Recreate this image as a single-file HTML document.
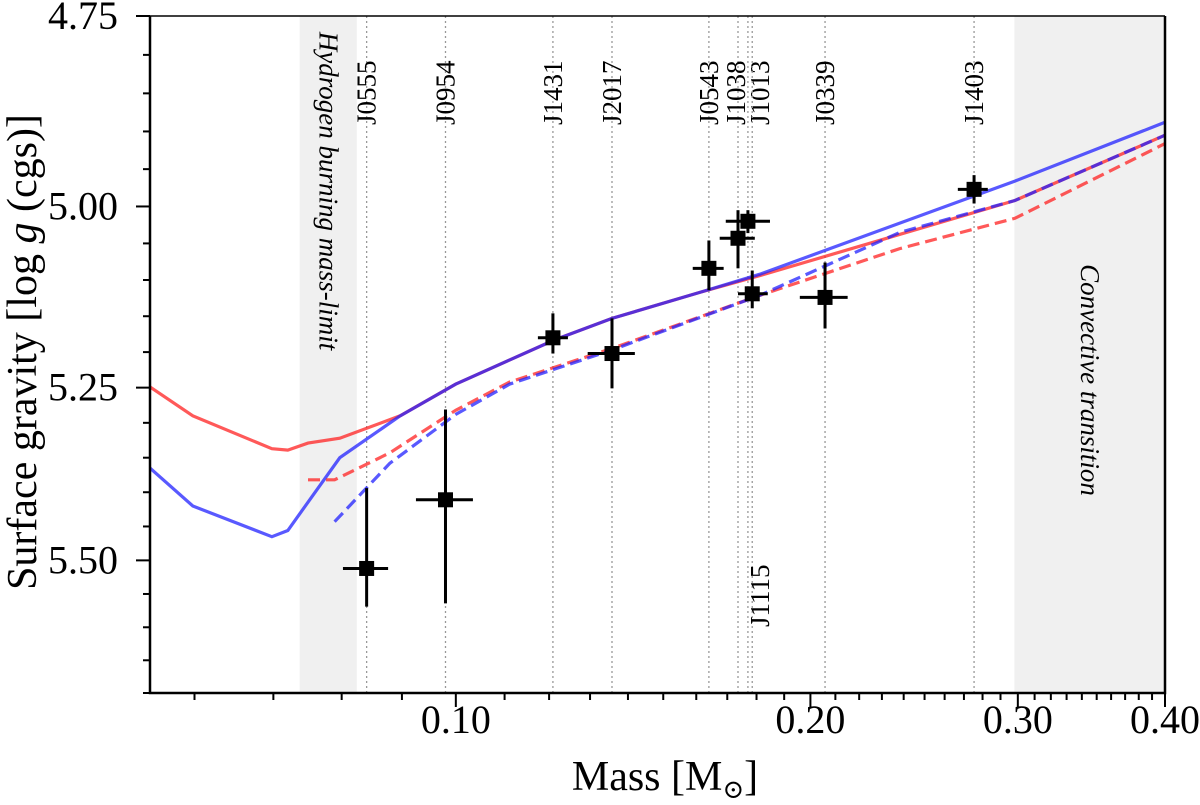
<!DOCTYPE html>
<html><head><meta charset="utf-8"><style>
html,body{margin:0;padding:0;background:#fff;}
svg, svg text{font-family:"Liberation Serif","DejaVu Serif","Times New Roman",serif !important;}
</style></head><body>
<svg id="chart" width="1200" height="800" viewBox="0 0 1200 800" xmlns="http://www.w3.org/2000/svg"></svg>
<script>
const xTicksMajor = [0.10, 0.20, 0.30, 0.40];
const xTickLabels = ["0.10", "0.20", "0.30", "0.40"];
const yTicksMajor = [4.75, 5.00, 5.25, 5.50];
const yTickLabels = ["4.75", "5.00", "5.25", "5.50"];

const redSolidMass = [0.0550,0.0598,0.0698,0.0720,0.0749,0.0797,0.0897,0.1,0.1111,0.1213,0.1357,0.1611,0.1812,0.2983,0.40];
const redSolidLogg = [5.249,5.290,5.337,5.339,5.329,5.322,5.290,5.245,5.211,5.183,5.153,5.117,5.094,4.992,4.905];
const blueSolidMass = [0.0550,0.0598,0.0698,0.0720,0.0797,0.0897,0.1,0.1111,0.1213,0.1357,0.1611,0.1812,0.2983,0.40];
const blueSolidLogg = [5.365,5.420,5.465,5.456,5.350,5.290,5.245,5.211,5.183,5.153,5.117,5.092,4.966,4.888];
const redDashedMass = [0.0749,0.0789,0.0879,0.1,0.1111,0.1357,0.1812,0.2382,0.2983,0.40];
const redDashedLogg = [5.382,5.382,5.343,5.282,5.242,5.195,5.121,5.057,5.016,4.916];
const blueDashedMass = [0.0789,0.0879,0.1,0.1111,0.1357,0.1812,0.2382,0.2983,0.40];
const blueDashedLogg = [5.443,5.358,5.288,5.245,5.197,5.121,5.035,4.992,4.905];

const starNames = ["J0555","J0954","J1431","J2017","J0543","J1038","J1013","J1115","J0339","J1403"];
const starMass  = [0.0840,0.0980,0.1209,0.1357,0.1640,0.1736,0.1770,0.1785,0.2058,0.2754];
const starMassLo= [0.0802,0.0925,0.1174,0.1294,0.1589,0.1675,0.1695,0.1736,0.1959,0.2668];
const starMassHi= [0.0876,0.1034,0.1245,0.1419,0.1688,0.1794,0.1848,0.1840,0.2151,0.2829];
const starLogg  = [5.512,5.411,5.180,5.202,5.084,5.043,5.020,5.119,5.124,4.977];
const starLoggLo= [5.394,5.281,5.146,5.153,5.046,5.005,5.005,5.087,5.076,4.958];
const starLoggHi= [5.569,5.564,5.202,5.251,5.114,5.084,5.036,5.139,5.167,4.996];
const labelOffsets = [0,0,0,0,0,-2,12,8,0,0];

const L=150,R=1165,T=16,B=693;
const xMin=0.0550,xMax=0.40,yMin=4.75,yMax=5.70;
function xs(m){return L+(Math.log10(m)-Math.log10(xMin))/(Math.log10(xMax)-Math.log10(xMin))*(R-L);}
function ys(g){return T+(Math.log10(g)-Math.log10(yMin))/(Math.log10(yMax)-Math.log10(yMin))*(B-T);}

const svg=document.getElementById('chart');
const NS="http://www.w3.org/2000/svg";
const FF="font-family:'Liberation Serif','DejaVu Serif',serif";
function mk(tag,attrs,parent){const e=document.createElementNS(NS,tag);for(const k in attrs)e.setAttribute(k,attrs[k]);if(tag==='text')e.setAttribute('style',FF);(parent||svg).appendChild(e);return e;}

let r1=mk('rect',{x:xs(0.0737),y:T,width:xs(0.0824)-xs(0.0737),height:B-T,fill:'#f0f0f0'});


let r2=mk('rect',{x:xs(0.298),y:T,width:R-xs(0.298),height:B-T,fill:'#f0f0f0'});



let t1=mk('text',{x:0,y:0,'font-size':27,'font-style':'italic','text-anchor':'middle',transform:`translate(${(xs(0.0737)+xs(0.0824))/2-9},191) rotate(90)`});
t1.textContent='Hydrogen burning mass-limit';


let t2=mk('text',{x:0,y:0,'font-size':27,'font-style':'italic','text-anchor':'middle',transform:`translate(1081,380) rotate(90)`});
t2.textContent='Convective transition';



starNames.forEach((n,i)=>{
  const x=xs(starMass[i]);
  const ln=mk('line',{x1:x,x2:x,y1:T,y2:B,stroke:'#999','stroke-width':1.3,'stroke-dasharray':'2,3'});
  
  
  const bottom = n==='J1115';
  const ly = bottom?627:125;
  const tx=mk('text',{x:0,y:0,'font-size':27,transform:`translate(${x+labelOffsets[i]+9},${ly}) rotate(-90)`});
  tx.textContent=n;
  
  
});

function curve(ms,gs,color,dash,name){
  const d=ms.map((m,i)=>(i?'L':'M')+xs(m).toFixed(1)+','+ys(gs[i]).toFixed(1)).join(' ');
  const p=mk('path',{d:d,fill:'none',stroke:color,'stroke-width':3.2,'stroke-opacity':0.75,'stroke-dasharray':dash||'none'});
  
  
}
curve(redSolidMass,redSolidLogg,'#f22','', 'red-solid-track');
curve(blueSolidMass,blueSolidLogg,'#22f','', 'blue-solid-track');
curve(redDashedMass,redDashedLogg,'#f22','12,6','red-dashed-track');
curve(blueDashedMass,blueDashedLogg,'#22f','12,6','blue-dashed-track');

starNames.forEach((n,i)=>{
  const g=mk('g',{});
  
  
  const x=xs(starMass[i]),y=ys(starLogg[i]);
  mk('line',{x1:x,x2:x,y1:ys(starLoggLo[i]),y2:ys(starLoggHi[i]),stroke:'#000','stroke-width':3},g);
  mk('line',{x1:xs(starMassLo[i]),x2:xs(starMassHi[i]),y1:y,y2:y,stroke:'#000','stroke-width':3},g);
  mk('rect',{x:x-7.5,y:y-7.5,width:15,height:15,fill:'#000'},g);
});

let ax=mk('path',{d:`M${L},${T} L${L},${B} L${R},${B} L${R},${T}`,fill:'none',stroke:'#000','stroke-width':2.5});


mk('line',{x1:L,x2:R,y1:T,y2:T,stroke:'#000','stroke-width':1.5});

for(let m=0.06;m<=0.4001;m+=0.01){
  const mm=Math.round(m*100)/100;
  const major=xTicksMajor.some(v=>Math.abs(v-mm)<1e-6);
  const x=xs(mm);
  mk('line',{x1:x,x2:x,y1:B,y2:B+(major?14:7),stroke:'#000','stroke-width':2});
}
xTicksMajor.forEach((v,i)=>{
  const t=mk('text',{x:xs(v),y:B+40,'font-size':40,'text-anchor':'middle'});
  t.textContent=xTickLabels[i];
  
  
});
for(let k=0;k<=19;k++){
  const v=4.75+k*0.05;
  const major=yTicksMajor.some(u=>Math.abs(u-v)<1e-6);
  const y=ys(v);
  mk('line',{x1:L,x2:L-(major?14:7),y1:y,y2:y,stroke:'#000','stroke-width':2});
}
yTicksMajor.forEach((v,i)=>{
  const t=mk('text',{x:L-32,y:ys(v)+13,'font-size':40,'text-anchor':'end'});
  t.textContent=yTickLabels[i];
  
  
});
let xt=mk('text',{x:665,y:790,'font-size':42,'text-anchor':'middle'});
xt.innerHTML='Mass [M<tspan font-size="26" dy="8">⊙</tspan><tspan dy="-8">]</tspan>';


let yt=mk('text',{x:0,y:0,'font-size':42,'text-anchor':'middle',transform:'translate(36,352) rotate(-90)'});
yt.innerHTML='Surface gravity [log <tspan font-style="italic">g</tspan> (cgs)]';


</script>
</body></html>
